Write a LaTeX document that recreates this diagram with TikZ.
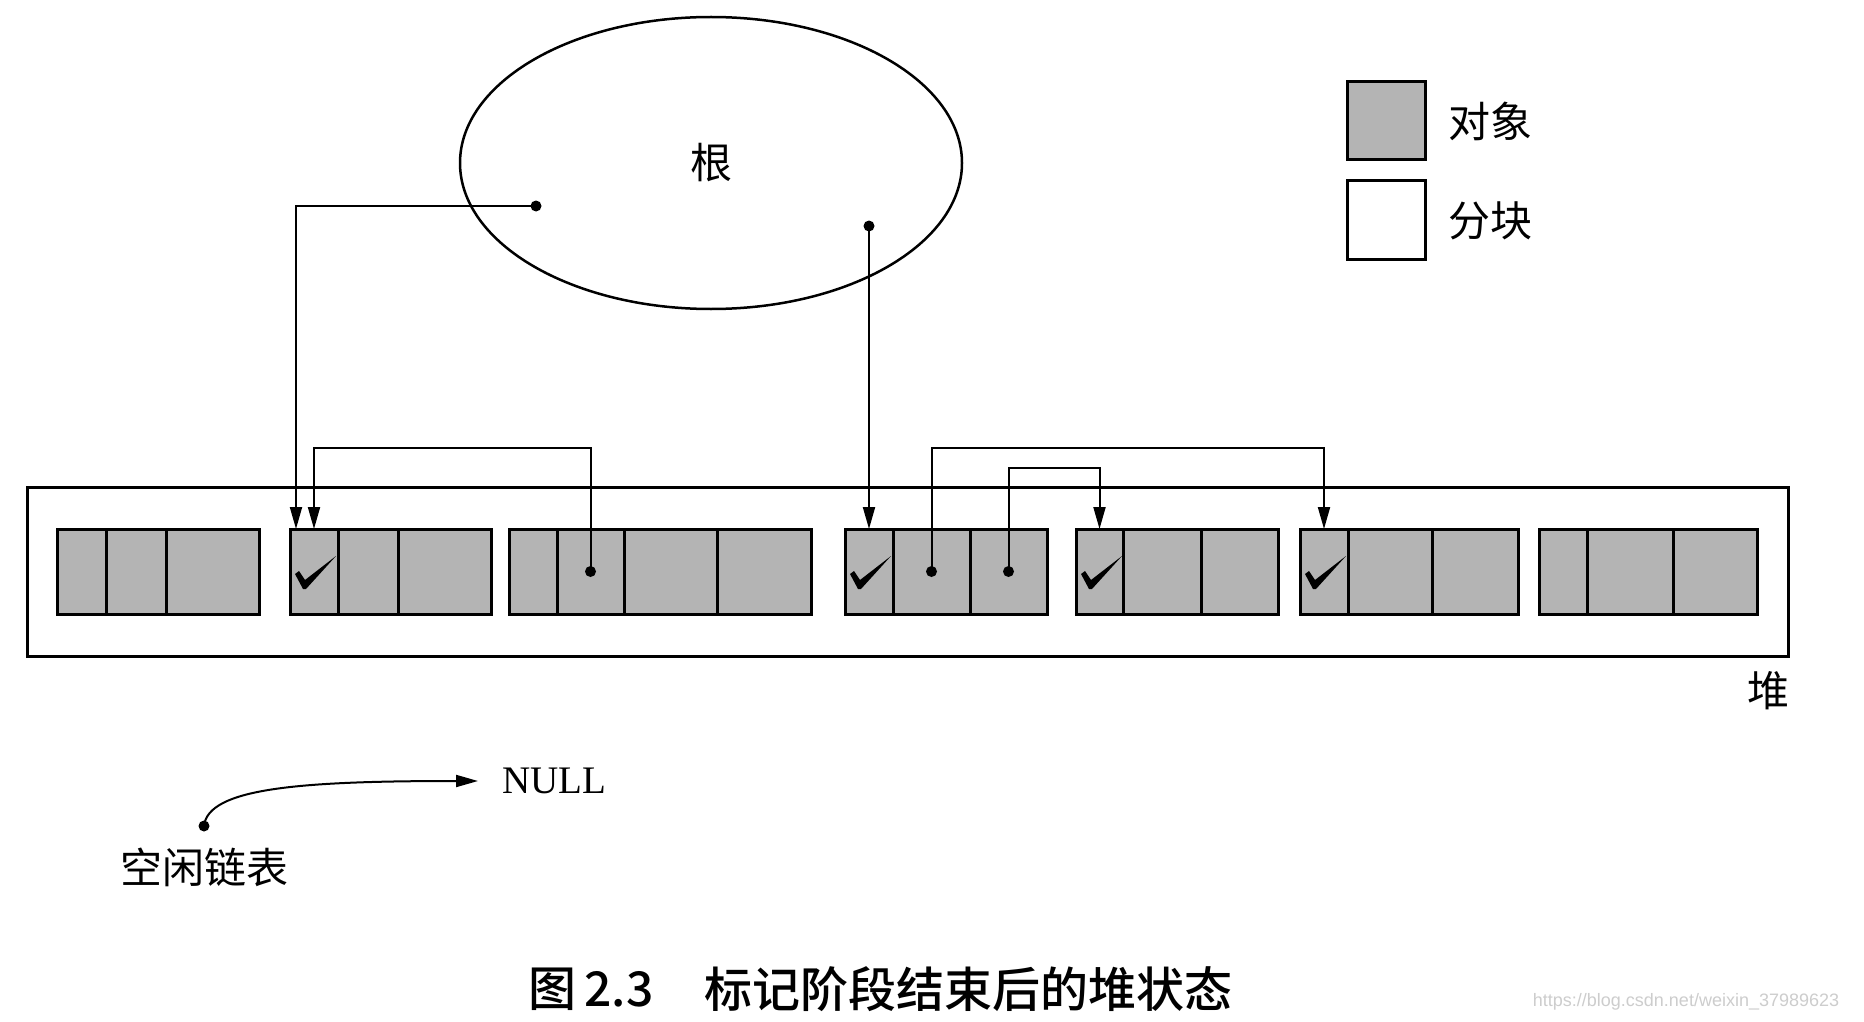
\documentclass[tikz,border=0pt]{standalone}
\usepackage{fontspec}
\setmainfont{Liberation Serif}
\newfontfamily\cjk{Noto Sans CJK SC}
\IfFontExistsTF{Noto Sans CJK SC Medium}
  {\newfontfamily\capfont{Noto Sans CJK SC Medium}}
  {\newfontfamily\capfont{Noto Sans CJK SC}[UprightFont=*, BoldFont=*]}
\newfontfamily\wmfont{Liberation Sans}
\usetikzlibrary{arrows.meta,calc,shapes.geometric}
\definecolor{objgray}{RGB}{180,180,180}
\definecolor{wmgray}{RGB}{205,205,205}
\tikzset{
  chk/.pic={\fill[black] (5,45) -- (9,42) -- (15,51) -- (46,27) -- (16,60) -- (13,60) -- cycle;}
}
\begin{document}
\begin{tikzpicture}[x=1pt,y=-1pt,
  cell/.style={draw=black, line width=3pt, fill=objgray, rectangle, inner sep=0pt, outer sep=0pt, minimum height=85pt, anchor=north west},
  conn/.style={line width=2pt, -{Triangle[length=22pt,width=12pt]}},
  dotc/.style={circle, fill=black, inner sep=0pt, minimum size=11pt},
  lbl/.style={font=\cjk\fontsize{42}{42}\selectfont, inner sep=0pt}
]
\useasboundingbox[fill=white] (0,0) rectangle (1864,1022);

% root set
\node[draw, ellipse, line width=2.5pt, minimum width=502pt, minimum height=292pt, inner sep=0pt, font=\cjk\fontsize{42}{42}\selectfont] (root) at (711,163) {根};
\node[dotc] (rl) at (536,206) {};
\node[dotc] (rr) at (869,226) {};

% legend
\node[draw, line width=3pt, fill=objgray, minimum size=78pt, inner sep=0pt, outer sep=0pt, anchor=north west] (lgobj) at (1347,82) {};
\node[draw, line width=3pt, fill=white, minimum size=78pt, inner sep=0pt, outer sep=0pt, anchor=north west] (lgchunk) at (1347,181) {};
\node[lbl] (lgobjt) at (1490,121) {对象};
\node[lbl] (lgchunkt) at (1490,221) {分块};

% heap
\node[draw, line width=3pt, minimum width=1761pt, minimum height=169pt, inner sep=0pt, outer sep=0pt, anchor=north west] (heap) at (27,487) {};
\node[lbl] (heapt) at (1768,691) {堆};

% blocks
\node[cell, minimum width=49pt] (b1a) at (57,529) {};
\node[cell, minimum width=60pt] (b1b) at (106,529) {};
\node[cell, minimum width=93pt] (b1c) at (166,529) {};

\node[cell, minimum width=48pt] (b2a) at (290,529) {};
\node[cell, minimum width=60pt] (b2b) at (338,529) {};
\node[cell, minimum width=93pt] (b2c) at (398,529) {};

\node[cell, minimum width=48pt] (b3a) at (509,529) {};
\node[cell, minimum width=67pt] (b3b) at (557,529) {};
\node[cell, minimum width=93pt] (b3c) at (624,529) {};
\node[cell, minimum width=94pt] (b3d) at (717,529) {};

\node[cell, minimum width=48pt] (b4a) at (845,529) {};
\node[cell, minimum width=77pt] (b4b) at (893,529) {};
\node[cell, minimum width=77pt] (b4c) at (970,529) {};

\node[cell, minimum width=47pt] (b5a) at (1076,529) {};
\node[cell, minimum width=78pt] (b5b) at (1123,529) {};
\node[cell, minimum width=77pt] (b5c) at (1201,529) {};

\node[cell, minimum width=48pt] (b6a) at (1300,529) {};
\node[cell, minimum width=84pt] (b6b) at (1348,529) {};
\node[cell, minimum width=86pt] (b6c) at (1432,529) {};

\node[cell, minimum width=48pt] (b7a) at (1539,529) {};
\node[cell, minimum width=86pt] (b7b) at (1587,529) {};
\node[cell, minimum width=84pt] (b7c) at (1673,529) {};

% marks
\pic at (b2a.north west) {chk};
\pic at (b4a.north west) {chk};
\pic at (b5a.north west) {chk};
\pic at (b6a.north west) {chk};

% pointer dots
\node[dotc] (p3) at (b3b.center) {};
\node[dotc] (p4a) at (b4b.center) {};
\node[dotc] (p4b) at (b4c.center) {};

% rails
\coordinate (rail1) at (0,448);
\coordinate (rail2) at (0,468);
\coordinate (t2a) at ($(b2a.north west)+(6,0)$);
\coordinate (t2b) at ($(b2a.north west)+(24,0)$);

% connectors
\draw[conn] (rl.center) -| (t2a);
\draw[conn] (p3.center) -- (p3.center |- rail1) -| (t2b);
\draw[conn] (rr.center) -- (rr.center |- b4a.north);
\draw[conn] (p4a.center) -- (p4a.center |- rail1) -| (b6a.north);
\draw[conn] (p4b.center) -- (p4b.center |- rail2) -| (b5a.north);

% free list
\node[dotc] (fl) at (204,826) {};
\node[font=\fontsize{39}{39}\selectfont, inner sep=0pt, anchor=west] (null) at (502,781) {NULL};
\node[lbl] (flt) at (204,867) {空闲链表};
\draw[conn, shorten >=24pt] (fl.center) .. controls (208,788) and (300,781) .. (null.west);

% caption
\node[font=\capfont\fontsize{48}{48}\selectfont, inner sep=0pt] (cap1) at (591,989) {图\,2.3};
\node[font=\capfont\fontsize{48}{48}\selectfont, inner sep=0pt] (cap2) at (968,989) {标记阶段结束后的堆状态};
\node[font=\wmfont\fontsize{18}{18}\selectfont, text=wmgray, inner sep=0pt] (wm) at (1686,1002) {https://blog.csdn.net/weixin\_37989623};
\end{tikzpicture}
\end{document}
